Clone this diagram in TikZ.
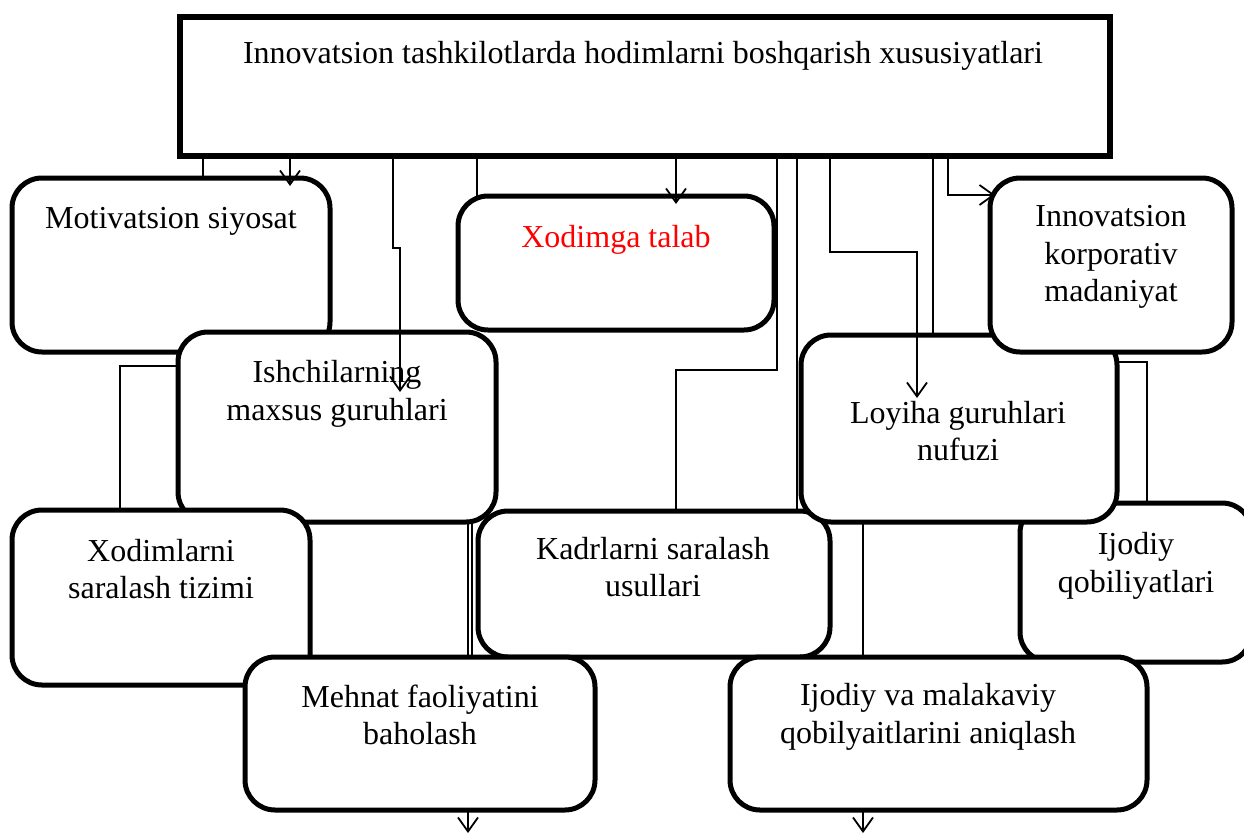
\documentclass[tikz,border=0pt]{standalone}
\usepackage{fontspec}
\setmainfont{Liberation Serif}
\usetikzlibrary{arrows.meta}
\begin{document}
\begin{tikzpicture}[x=1pt,y=-1pt,
  box/.style={draw=black, fill=white, line width=5pt, rounded corners=30pt, inner sep=0pt, outer sep=0pt},
  headbox/.style={draw=black, fill=white, line width=6pt, inner sep=0pt, outer sep=0pt},
  label/.style={font=\fontsize{32}{37.5}\selectfont, align=center, inner sep=0pt},
  link/.style={draw=black, line width=1.8pt},
  arrowlink/.style={link, -{Straight Barb[length=14pt,width=20pt]}},
]
\useasboundingbox (0,0) rectangle (1244,835);

% heading box
\node[headbox, minimum width=930pt, minimum height=139pt] (top) at (645,86.5) {};

% named free ends of the two outgoing arrows at the bottom
\coordinate (out1) at (468,833);
\coordinate (out2) at (863,833);

% links that run behind the boxes
\draw[link] (203,0 |- top.south) -- (203,178);
\draw[link] (477,0 |- top.south) -- (477,196);
\draw[link] (777,0 |- top.south) -- (777,370) -- (676,370) -- (676,511);
\draw[link] (797,0 |- top.south) -- (797,511);
\draw[link] (933,0 |- top.south) -- (933,335);
\draw[link] (178,366) -- (120,366) -- (120,510);
\draw[link] (1117,362) -- (1147,362) -- (1147,503);
\draw[arrowlink] (468,522) -- (out1);
\draw[link] (472,522) -- (472,657);
\draw[arrowlink] (863,522) -- (out2);

% boxes, back to front
\node[box, minimum width=318pt, minimum height=174pt] (mot) at (171,265) {};
\node[box, minimum width=316pt, minimum height=134pt] (xod) at (616,263) {};
\node[box, minimum width=318pt, minimum height=190pt] (ish) at (337,427) {};
\node[box, minimum width=298pt, minimum height=175pt] (xsa) at (161,597.5) {};
\node[box, minimum width=352pt, minimum height=146pt] (kad) at (654,584) {};
\node[box, minimum width=232pt, minimum height=159pt] (ijq) at (1136,582.5) {};
\node[box, minimum width=316pt, minimum height=187pt] (loy) at (959,428.5) {};
\node[box, minimum width=242pt, minimum height=174pt] (ink) at (1111,265) {};
\node[box, minimum width=350pt, minimum height=153pt] (meh) at (420,733.5) {};
\node[box, minimum width=417pt, minimum height=153pt] (ijm) at (938.5,733.5) {};

% arrows that end inside the boxes
\draw[arrowlink] (290,0 |- top.south) -- (290,186);
\draw[arrowlink] (676,0 |- top.south) -- (676,204);
\draw[arrowlink] (393,0 |- top.south) -- (393,248) -- (400,248) -- (400,392);
\draw[arrowlink] (830,0 |- top.south) -- (830,252) -- (917,252) -- (917,398);
\draw[arrowlink] (948,0 |- top.south) -- (948,195) -- (995,195);

% texts
\node[label] (t0) at (643,56) {Innovatsion tashkilotlarda hodimlarni boshqarish xususiyatlari};
\node[label] (t1) at (171,221) {Motivatsion siyosat};
\node[label, text=red] (t2) at (616,240) {Xodimga talab};
\node[label] (t3) at (1111,257) {Innovatsion\\korporativ\\madaniyat};
\node[label] (t4) at (337,394) {Ishchilarning\\maxsus guruhlari};
\node[label] (t5) at (958,431) {Loyiha guruhlari\\nufuzi};
\node[label] (t6) at (161,569) {Xodimlarni\\saralash tizimi};
\node[label] (t7) at (653,567) {Kadrlarni saralash\\usullari};
\node[label] (t8) at (1136,566) {Ijodiy\\qobiliyatlari};
\node[label] (t9) at (420,715) {Mehnat faoliyatini\\baholash};
\node[label] (t10) at (928,717) {Ijodiy va malakaviy\\qobilyaitlarini aniqlash};
\end{tikzpicture}
\end{document}
